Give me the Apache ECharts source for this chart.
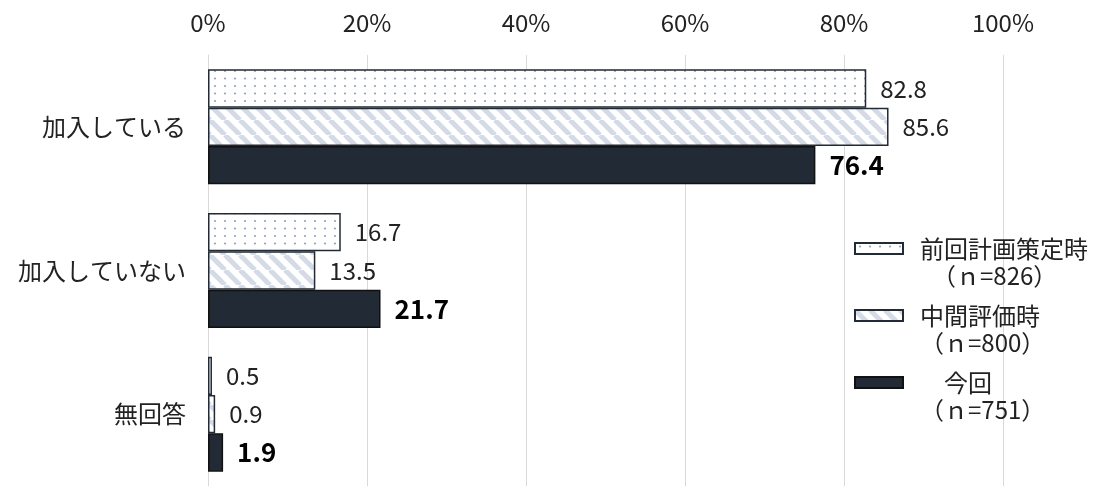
<!DOCTYPE html>
<html><head><meta charset="utf-8">
<script src="https://cdn.jsdelivr.net/npm/echarts@6/dist/echarts.min.js"></script>
<style>html,body{margin:0;padding:0;background:#fff}#c{width:1104px;height:486px}</style>
</head><body><div id="c"></div>
<script>
const categories = ['加入している', '加入していない', '無回答'];
const seriesNames = ['前回計画策定時', '中間評価時', '今回'];
const sampleSizes = ['826', '800', '751'];
const prevPlan = [82.8, 16.7, 0.5];
const midEval = [85.6, 13.5, 0.9];
const current = [76.4, 21.7, 1.9];
const xTicks = [0, 20, 40, 60, 80, 100];

const FONT = "'Noto Sans CJK JP','Noto Sans',sans-serif";

function dotPattern() {
  const c = document.createElement('canvas');
  c.width = 10; c.height = 15;
  const g = c.getContext('2d');
  g.fillStyle = '#ffffff'; g.fillRect(0, 0, 10, 15);
  g.fillStyle = '#95a2bb';
  g.beginPath(); g.arc(5, 3.5, 1.1, 0, Math.PI * 2); g.fill();
  g.beginPath(); g.arc(5, 11, 1.1, 0, Math.PI * 2); g.fill();
  return c;
}
function stripePattern() {
  const s = 15;
  const c = document.createElement('canvas');
  c.width = s; c.height = s;
  const g = c.getContext('2d');
  g.fillStyle = '#ffffff'; g.fillRect(0, 0, s, s);
  g.strokeStyle = '#d4dbe6'; g.lineWidth = 5;
  for (const o of [-s, 0, s]) {
    g.beginPath(); g.moveTo(o, 0); g.lineTo(o + s, s); g.stroke();
  }
  return c;
}

const chart = echarts.init(document.getElementById('c'));
const border = '#222a35';
const lblNormal = { show: true, position: 'right', distance: 14, fontFamily: FONT, fontSize: 24, color: '#222', formatter: p => p.value.toFixed(1) };
const lblBold = { show: true, position: 'right', distance: 14, fontFamily: FONT, fontSize: 26, fontWeight: 'bold', color: '#000', formatter: p => p.value.toFixed(1) };

const legendText = {
  '前回計画策定時': '\n前回計画策定時\n\u3000（ｎ=' + sampleSizes[0] + '）',
  '中間評価時': '\n中間評価時\n（ｎ=' + sampleSizes[1] + '）',
  '今回': '\n\u3000今回\n（ｎ=' + sampleSizes[2] + '）'
};

chart.setOption({
  animation: false,
  textStyle: { fontFamily: FONT },
  grid: { left: 208, right: 101, top: 55, height: 435 },
  xAxis: {
    type: 'value', position: 'top', min: xTicks[0], max: xTicks[xTicks.length - 1], interval: 20,
    axisLine: { show: false }, axisTick: { show: false },
    axisLabel: { formatter: '{value}%', fontSize: 24, color: '#222', margin: 20, fontFamily: FONT },
    splitLine: { lineStyle: { color: '#d9d9d9', width: 1 } }
  },
  yAxis: {
    type: 'category', data: categories, inverse: true,
    axisLine: { show: true, lineStyle: { color: '#d9d9d9' } }, axisTick: { show: false },
    axisLabel: { fontSize: 24, color: '#222', margin: 22, fontFamily: FONT }
  },
  legend: {
    orient: 'vertical', left: 849, top: 203, itemWidth: 48, itemHeight: 11, itemGap: -14,
    icon: 'rect',
    data: seriesNames,
    formatter: n => legendText[n],
    textStyle: { fontSize: 24, lineHeight: 27, color: '#222', fontFamily: FONT, padding: [0, 0, 0, 12] }
  },
  series: [
    { name: seriesNames[0], type: 'bar', data: prevPlan, barGap: '0%', barCategoryGap: '20%',
      itemStyle: { color: { image: dotPattern(), repeat: 'repeat' }, borderColor: border, borderWidth: 1.5 }, label: lblNormal },
    { name: seriesNames[1], type: 'bar', data: midEval, barGap: '0%', barCategoryGap: '20%',
      itemStyle: { color: { image: stripePattern(), repeat: 'repeat' }, borderColor: border, borderWidth: 1.5 }, label: lblNormal },
    { name: seriesNames[2], type: 'bar', data: current, barGap: '0%', barCategoryGap: '20%',
      itemStyle: { color: '#222a35', borderColor: '#111', borderWidth: 1.5 }, label: lblBold }
  ]
});
</script></body></html>
